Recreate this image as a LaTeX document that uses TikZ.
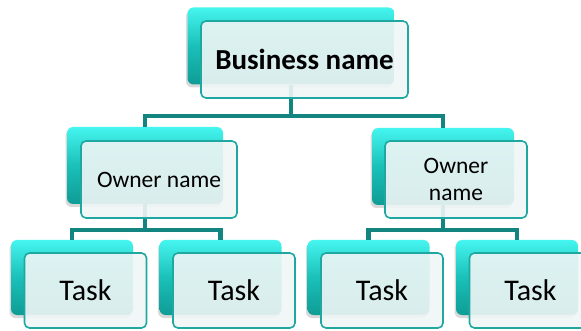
\documentclass[tikz,border=0pt]{standalone}
\usepackage{fontspec}
\setmainfont{Carlito}
\usetikzlibrary{shadows}
\definecolor{linkc}{HTML}{138580}
\definecolor{backtop}{HTML}{45F5EF}
\definecolor{backmid}{HTML}{1AC0B8}
\definecolor{backbot}{HTML}{0F9C95}
\definecolor{frontdraw}{HTML}{1FA8A1}
\definecolor{frontfill}{HTML}{F0F6F6}
\begin{document}
\begin{tikzpicture}[x=1pt,y=-1pt,
  backbox/.style={rectangle, rounded corners=6pt, inner sep=0pt,
    top color=backtop, bottom color=backbot, middle color=backmid,
    drop shadow={shadow xshift=-1.5pt, shadow yshift=-3pt, opacity=0.3}},
  frontbox/.style={rectangle, rounded corners=5pt, inner sep=0pt,
    draw=frontdraw, line width=1.6pt, fill=frontfill, fill opacity=0.9, text opacity=1,
    align=center, text=black},
  link/.style={draw=linkc, line width=4.5pt},
  topsize/.style={minimum width=207pt, minimum height=77pt},
  ownLsize/.style={minimum width=156pt, minimum height=77pt},
  ownRsize/.style={minimum width=142pt, minimum height=77pt},
  tasksize/.style={minimum width=122pt, minimum height=75pt},
  bizfont/.style={font=\fontsize{29}{34}\selectfont\bfseries},
  ownfont/.style={font=\fontsize{23.5}{27.5}\selectfont},
  taskfont/.style={font=\fontsize{30}{35}\selectfont}]
\clip (0,0) rectangle (581,331);
% back boxes
\node[backbox, topsize] (topb) at (291,46) {};
\node[backbox, ownLsize] (ownLb) at (145,165.5) {};
\node[backbox, ownRsize] (ownRb) at (443,166.5) {};
\node[backbox, tasksize] (t1b) at (72,277.5) {};
\node[backbox, tasksize] (t2b) at (220.5,277.5) {};
\node[backbox, tasksize] (t3b) at (368.5,277.5) {};
\node[backbox, tasksize] (t4b) at (517,277.5) {};
% connectors
\coordinate (j1) at (291,116);
\coordinate (j2) at (145,230);
\coordinate (j3) at (443,230);
\draw[link] (topb.south) -- (j1) -| (ownLb.north);
\draw[link] (j1) -| (ownRb.north);
\draw[link] (ownLb.south) -- (j2) -| (t1b.north);
\draw[link] (j2) -| (t2b.north);
\draw[link] (ownRb.south) -- (j3) -| (t3b.north);
\draw[link] (j3) -| (t4b.north);
% front boxes
\node[frontbox, topsize, bizfont] (topf) at (304.5,59.5) {Business name};
\node[frontbox, ownLsize, ownfont] (ownLf) at (159,179.5) {Owner name};
\node[frontbox, ownRsize, ownfont] (ownRf) at (456,179.5) {Owner\\name};
\node[frontbox, tasksize, taskfont] (t1f) at (85.5,290.5) {Task};
\node[frontbox, tasksize, taskfont] (t2f) at (234,290.5) {Task};
\node[frontbox, tasksize, taskfont] (t3f) at (382,290.5) {Task};
\node[frontbox, tasksize, taskfont] (t4f) at (530.5,290.5) {Task};
\end{tikzpicture}
\end{document}
